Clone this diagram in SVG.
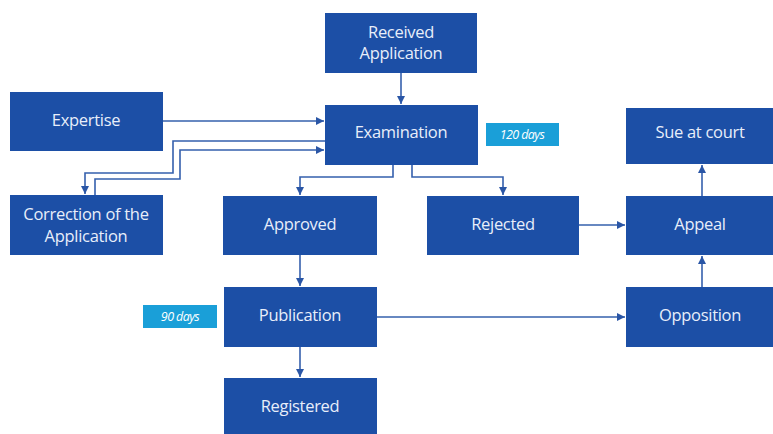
<svg xmlns="http://www.w3.org/2000/svg" width="773" height="434" viewBox="0 0 773 434">
<style>
.box{fill:#1c4fa6}
.lbl{fill:#1a9fd8}
.t{font-family:"Open Sans","Noto Sans",sans-serif;font-size:16.5px;fill:#e8eefa;text-anchor:middle;letter-spacing:-0.3px}
.d{font-family:"Open Sans","Noto Sans",sans-serif;font-size:12.5px;font-style:italic;fill:#ffffff;text-anchor:middle;letter-spacing:-0.6px}
.c{fill:none;stroke:#3560ad;stroke-width:1.6}
</style>
<defs>
<marker id="ah2" viewBox="0 0 10 10" refX="10" refY="5" markerWidth="8" markerHeight="8" markerUnits="userSpaceOnUse" orient="auto"><path d="M0,0 L10,5 L0,10 Z" fill="#2a56a6"/></marker>
</defs>
<rect width="773" height="434" fill="#ffffff"/>
<g id="connectors">
<path class="c" d="M401,73 V104" marker-end="url(#ah2)"/>
<path class="c" d="M163,121 H324" marker-end="url(#ah2)"/>
<path class="c" d="M325,141 H173 V173 H85 V194" marker-end="url(#ah2)"/>
<path class="c" d="M95,195 V179 H180 V150 H324" marker-end="url(#ah2)"/>
<path class="c" d="M393,165 V177 H300 V195" marker-end="url(#ah2)"/>
<path class="c" d="M412,165 V177 H503 V195" marker-end="url(#ah2)"/>
<path class="c" d="M579,225 H625" marker-end="url(#ah2)"/>
<path class="c" d="M702,196 V165" marker-end="url(#ah2)"/>
<path class="c" d="M702,287 V256" marker-end="url(#ah2)"/>
<path class="c" d="M300,255 V286" marker-end="url(#ah2)"/>
<path class="c" d="M300,347 V377" marker-end="url(#ah2)"/>
<path class="c" d="M377,317 H625" marker-end="url(#ah2)"/>
</g>
<g id="received"><rect class="box" x="325" y="13" width="152" height="60"/><text class="t" x="401" y="38">Received</text><text class="t" x="401" y="59">Application</text></g>
<g id="examination"><rect class="box" x="325" y="105" width="153" height="60"/><text class="t" x="401" y="138">Examination</text></g>
<g id="days120"><rect class="lbl" x="486" y="123" width="73" height="23"/><text class="d" x="522" y="139">120 days</text></g>
<g id="expertise"><rect class="box" x="10" y="92" width="153" height="59"/><text class="t" x="86" y="126">Expertise</text></g>
<g id="correction"><rect class="box" x="10" y="195" width="153" height="60"/><text class="t" x="86" y="220">Correction of the</text><text class="t" x="86" y="242">Application</text></g>
<g id="approved"><rect class="box" x="223" y="196" width="154" height="59"/><text class="t" x="300" y="230">Approved</text></g>
<g id="rejected"><rect class="box" x="427" y="196" width="152" height="59"/><text class="t" x="503" y="230">Rejected</text></g>
<g id="sue"><rect class="box" x="626" y="108" width="147" height="56"/><text class="t" x="700" y="138">Sue at court</text></g>
<g id="appeal"><rect class="box" x="626" y="196" width="147" height="59"/><text class="t" x="700" y="230">Appeal</text></g>
<g id="publication"><rect class="box" x="224" y="287" width="153" height="60"/><text class="t" x="300" y="321">Publication</text></g>
<g id="days90"><rect class="lbl" x="143" y="305" width="74" height="23"/><text class="d" x="180" y="321">90 days</text></g>
<g id="opposition"><rect class="box" x="626" y="287" width="147" height="60"/><text class="t" x="700" y="321">Opposition</text></g>
<g id="registered"><rect class="box" x="224" y="378" width="153" height="56"/><text class="t" x="300" y="412">Registered</text></g>
</svg>
